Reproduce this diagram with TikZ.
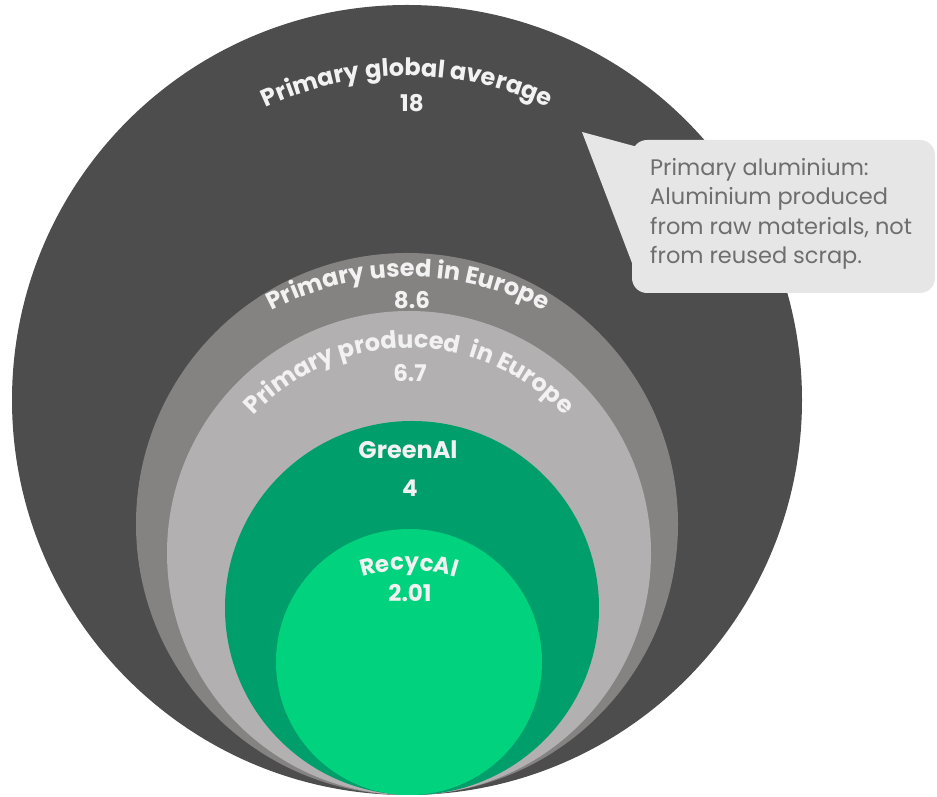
\documentclass[tikz,border=0pt]{standalone}
\usepackage{fontspec}
\setmainfont{Poppins}
\usetikzlibrary{decorations.text}
\definecolor{cDark}{RGB}{77,77,77}
\definecolor{cMid}{RGB}{133,130,130}
\definecolor{cLight}{RGB}{179,176,177}
\definecolor{cGreen}{RGB}{0,158,106}
\definecolor{cBright}{RGB}{0,210,125}
\definecolor{cBox}{RGB}{230,230,230}
\definecolor{cBoxText}{RGB}{110,110,110}
\definecolor{cLabel}{RGB}{242,242,242}
\begin{document}
\begin{tikzpicture}[x=1pt,y=1pt,
  lbl/.style={text=cLabel,font=\bfseries\fontsize{23}{23}\selectfont,inner sep=0},
  arclbl/.style={decorate,decoration={text along path,text align=center,text color=cLabel,text={#1}}}]
\useasboundingbox (0,0) rectangle (937,797);
% circles
\fill[cDark]   (407,397) circle[radius=395];
\fill[cMid]    (407,273) circle[radius=271];
\fill[cLight]  (409,244) circle[radius=242];
\fill[cGreen]  (412,189) circle[radius=187];
\fill[cBright] (409,135) circle[radius=133];
% curved labels
\path[arclbl={|\bfseries\fontsize{24}{24}\selectfont|Primary global average}]
  (407,391) ++(150:330) arc[start angle=150,end angle=30,radius=330];
\path[arclbl={|\bfseries\fontsize{24}{24}\selectfont|Primary used in Europe}]
  (408,227) ++(150:293) arc[start angle=150,end angle=30,radius=293];
\path[arclbl={|\bfseries\fontsize{24}{24}\selectfont|Primary produced {\ }in Europe}]
  (409,237) ++(140:212) arc[start angle=140,end angle=40,radius=212];
\path[arclbl={|\bfseries\fontsize{23}{23}\selectfont|RecycAl}]
  (409,67) ++(120:160) arc[start angle=120,end angle=60,radius=160];
% straight labels
\node[lbl] (n18) at (412,694) {18};
\node[lbl] (n86) at (412,497) {8.6};
\node[lbl] (n67) at (410,424) {6.7};
\node[lbl,font=\bfseries\fontsize{24}{24}\selectfont] (green) at (408,347) {GreenAl};
\node[lbl] (n4) at (410,309) {4};
\node[lbl] (n201) at (410,204) {2.01};
% callout
\fill[cBox,rounded corners=15] (632,504) rectangle (935,657);
\fill[cBox] (582,665) -- (645,648) -- (632,534) -- cycle;
\node[anchor=west,align=left,text=cBoxText,font=\fontsize{22.5}{29.5}\selectfont,inner sep=0] (note) at (650,583)
  {Primary aluminium:\\Aluminium produced\\from raw materials, not\\from reused scrap.};
\end{tikzpicture}
\end{document}
